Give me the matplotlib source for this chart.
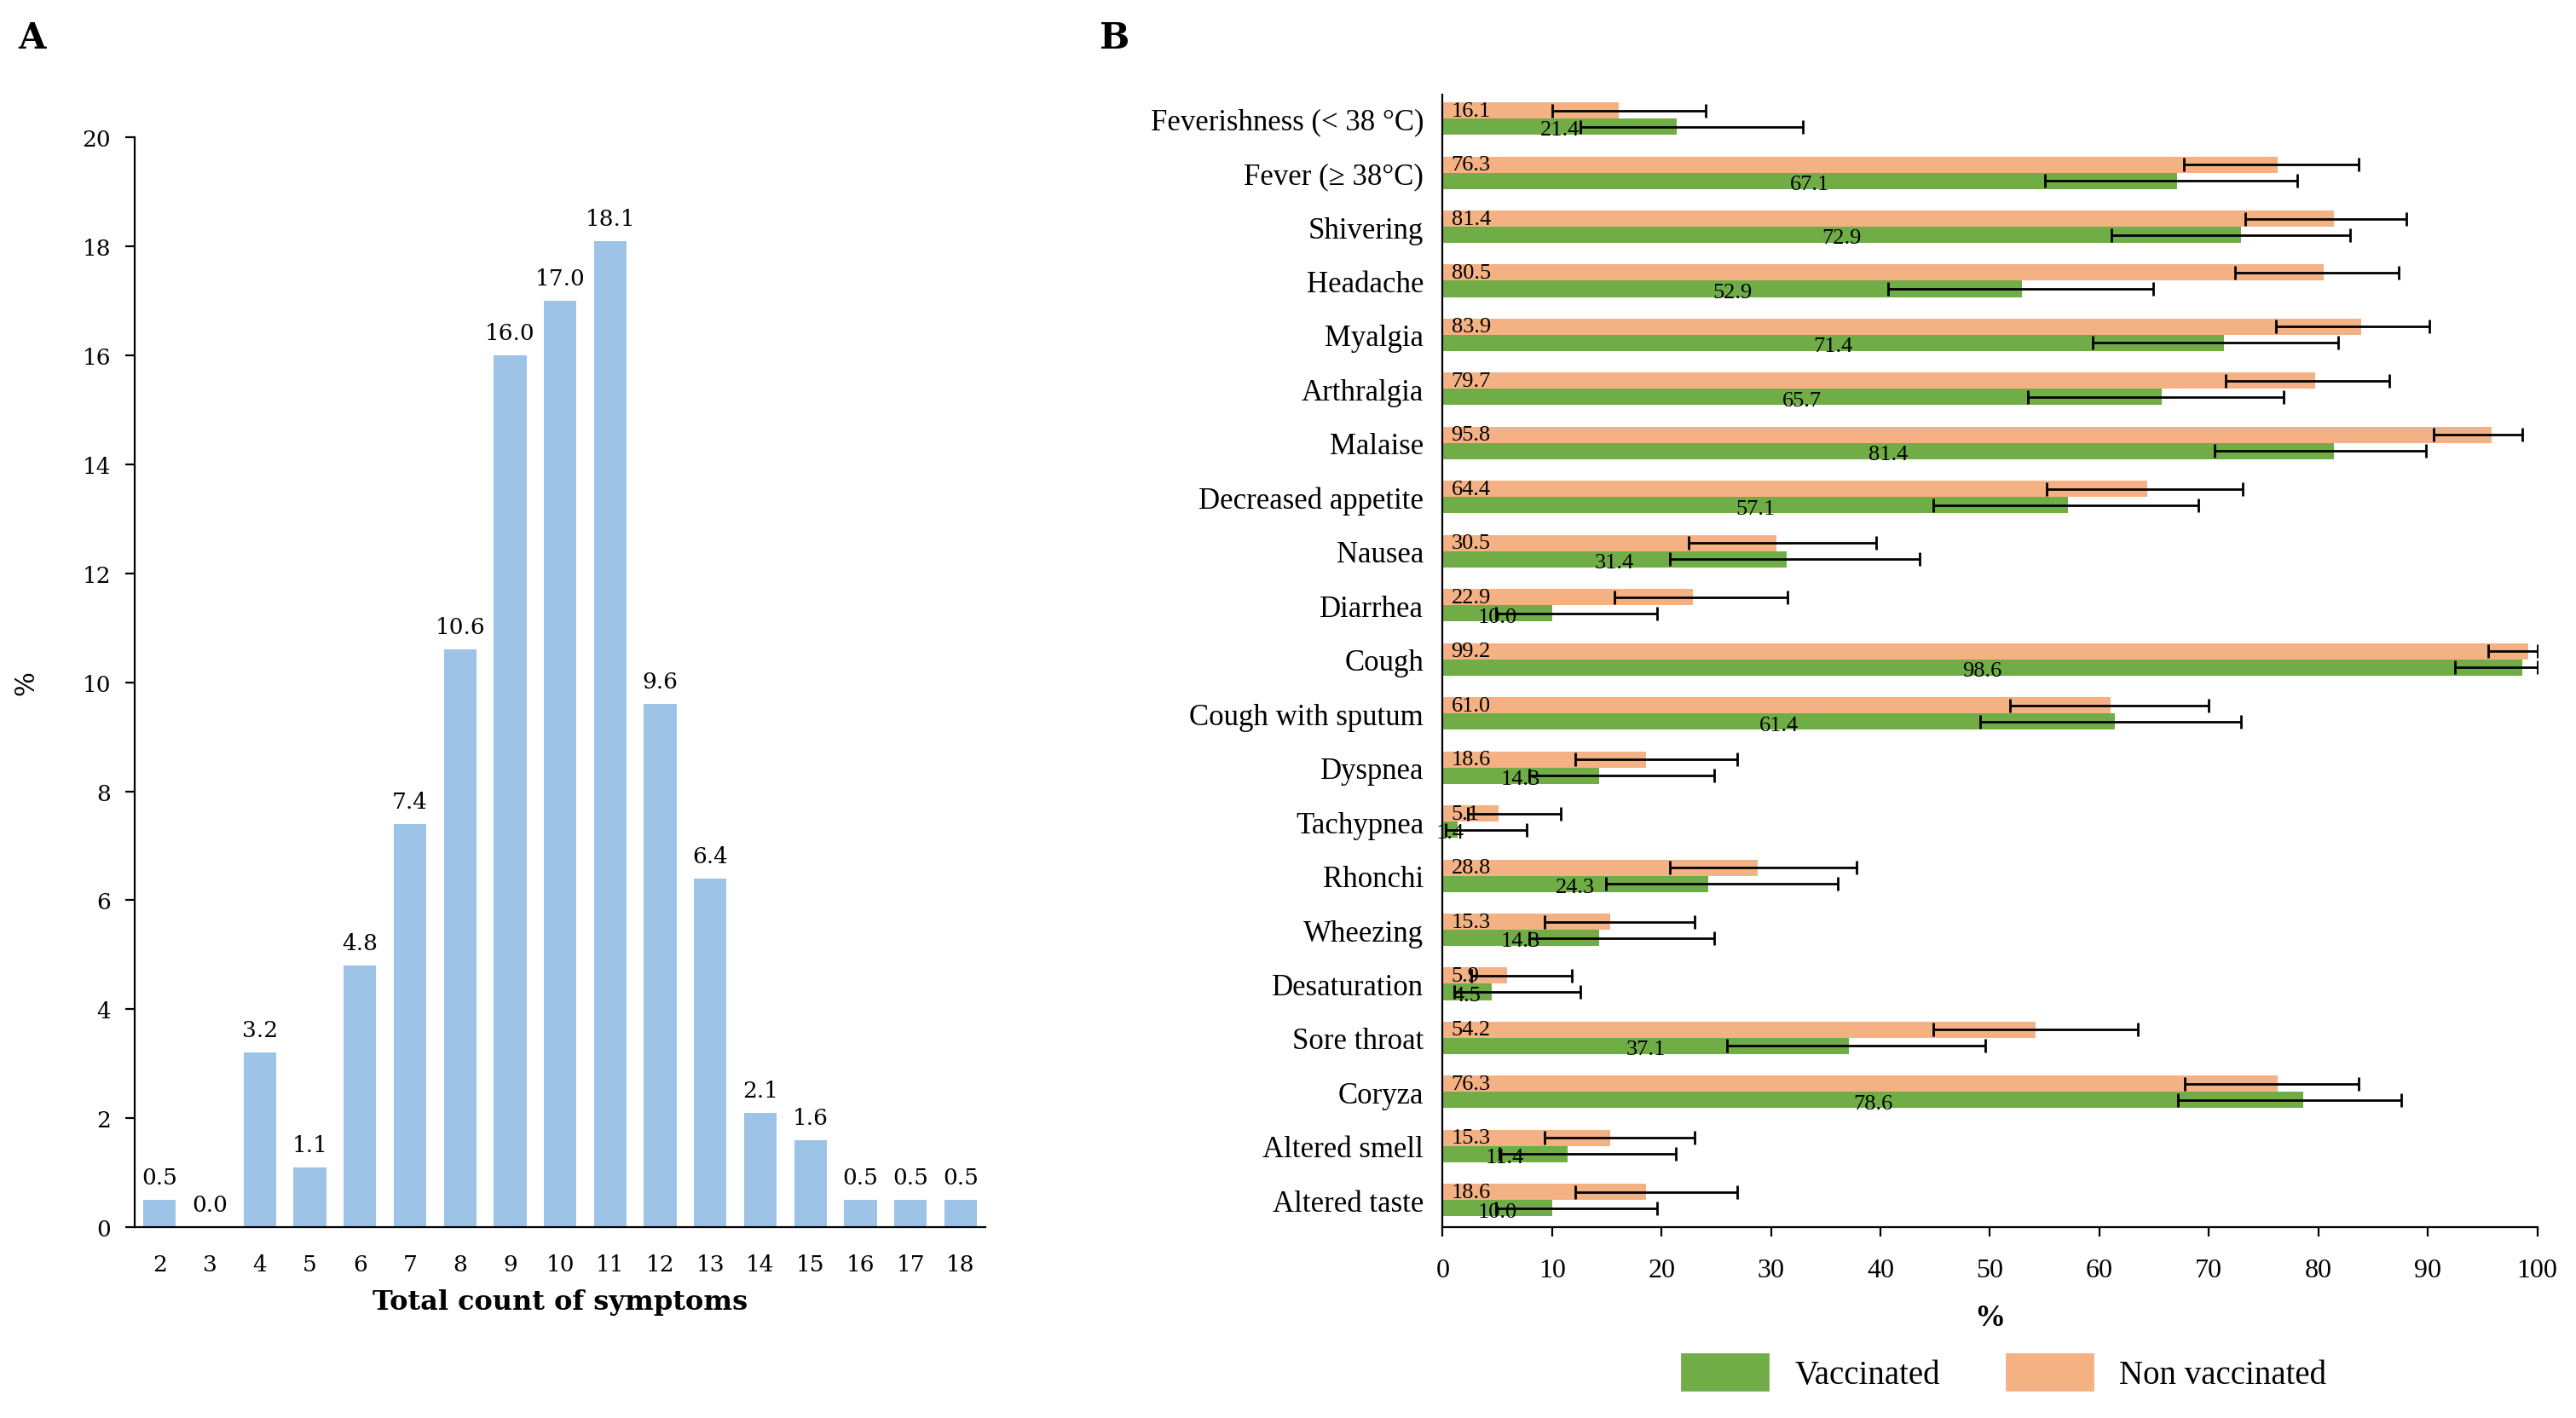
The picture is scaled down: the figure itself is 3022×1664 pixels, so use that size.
import matplotlib.pyplot as plt
import matplotlib.patches as mpatches
import numpy as np

# panel A: distribution of symptom counts
counts = list(range(2, 19))
pct_counts = [0.5, 0.0, 3.2, 1.1, 4.8, 7.4, 10.6, 16.0, 17.0, 18.1,
              9.6, 6.4, 2.1, 1.6, 0.5, 0.5, 0.5]

# panel B: symptoms by vaccination status
symptoms = ["Feverishness (< 38 °C)", "Fever (≥ 38°C)", "Shivering", "Headache",
            "Myalgia", "Arthralgia", "Malaise", "Decreased appetite", "Nausea",
            "Diarrhea", "Cough", "Cough with sputum", "Dyspnea", "Tachypnea",
            "Rhonchi", "Wheezing", "Desaturation", "Sore throat", "Coryza",
            "Altered smell", "Altered taste"]
nonvacc = [16.1, 76.3, 81.4, 80.5, 83.9, 79.7, 95.8, 64.4, 30.5, 22.9, 99.2,
           61.0, 18.6, 5.1, 28.8, 15.3, 5.9, 54.2, 76.3, 15.3, 18.6]
nonvacc_lo = [10.0, 67.7, 73.3, 72.4, 76.1, 71.5, 90.5, 55.2, 22.5, 15.7, 95.5,
              51.8, 12.1, 2.3, 20.8, 9.3, 2.6, 44.8, 67.8, 9.3, 12.1]
nonvacc_hi = [24.0, 83.7, 88.0, 87.3, 90.1, 86.5, 98.6, 73.1, 39.6, 31.5, 100.0,
              70.0, 26.9, 10.8, 37.8, 23.0, 11.8, 63.5, 83.7, 23.0, 26.9]
vacc = [21.4, 67.1, 72.9, 52.9, 71.4, 65.7, 81.4, 57.1, 31.4, 10.0, 98.6,
        61.4, 14.3, 1.4, 24.3, 14.3, 4.5, 37.1, 78.6, 11.4, 10.0]
vacc_lo = [12.6, 55.0, 61.1, 40.7, 59.4, 53.5, 70.5, 44.8, 20.8, 4.9, 92.5,
           49.1, 7.9, 0.3, 14.9, 7.9, 1.1, 26.0, 67.2, 5.2, 4.9]
vacc_hi = [32.9, 78.1, 82.9, 64.9, 81.8, 76.8, 89.8, 69.0, 43.6, 19.6, 100.0,
           72.9, 24.8, 7.7, 36.1, 24.8, 12.6, 49.6, 87.6, 21.3, 19.6]

blue = "#9DC3E6"
green = "#70AD47"
orange = "#F4B183"

fig = plt.figure(figsize=(15.11, 8.325), dpi=200)

# ---- panel A
axA = fig.add_axes([0.0523, 0.1345, 0.3303, 0.768])
axA.bar(counts, pct_counts, width=0.65, color=blue)
for x, v in zip(counts, pct_counts):
    axA.text(x, v + 0.22, f"{v:.1f}", ha="center", va="bottom",
             family="DejaVu Serif", fontsize=9.5)
axA.set_xlim(1.5, 18.5)
axA.set_ylim(0, 20)
axA.set_yticks(np.arange(0, 21, 2))
axA.set_xticks(counts)
axA.tick_params(axis="x", length=0, pad=11)
axA.tick_params(axis="y", length=4, direction="out", pad=6)
for lab in axA.get_xticklabels() + axA.get_yticklabels():
    lab.set_family("DejaVu Serif")
    lab.set_fontsize(9.5)
axA.spines["top"].set_visible(False)
axA.spines["right"].set_visible(False)
axA.set_xlabel("Total count of symptoms", family="DejaVu Serif",
               fontweight="bold", fontsize=11.5, labelpad=6)
axA.set_ylabel("%", family="DejaVu Serif", fontsize=11, labelpad=18)

# ---- panel B
axB = fig.add_axes([0.560, 0.1345, 0.425, 0.7985])
y = np.arange(len(symptoms))
h = 0.3
nv_err = [np.array(nonvacc) - np.array(nonvacc_lo), np.array(nonvacc_hi) - np.array(nonvacc)]
v_err = [np.array(vacc) - np.array(vacc_lo), np.array(vacc_hi) - np.array(vacc)]
axB.barh(y - h / 2, nonvacc, height=h, color=orange, label="Non vaccinated")
axB.barh(y + h / 2, vacc, height=h, color=green, label="Vaccinated")
axB.errorbar(nonvacc, y - h / 2, xerr=nv_err, fmt="none", ecolor="black",
             elinewidth=1.0, capsize=3, capthick=1.0)
axB.errorbar(vacc, y + h / 2, xerr=v_err, fmt="none", ecolor="black",
             elinewidth=1.0, capsize=3, capthick=1.0)
for yi, v in zip(y, nonvacc):
    axB.text(0.8, yi - h / 2, f"{v:.1f}", ha="left", va="center",
             family="Liberation Serif", fontsize=9.5)
for yi, v in zip(y, vacc):
    axB.text(v / 2, yi + h / 2 + 0.06, f"{v:.1f}", ha="center", va="center",
             family="Liberation Serif", fontsize=9.5)
axB.set_yticks(y)
axB.set_yticklabels(symptoms, family="Liberation Serif", fontsize=12.5)
axB.tick_params(axis="y", length=0, pad=8)
axB.set_xlim(0, 100)
axB.set_ylim(len(symptoms) - 0.5, -0.45)
axB.set_xticks(np.arange(0, 101, 10))
axB.tick_params(axis="x", length=4, direction="out", pad=9)
for lab in axB.get_xticklabels():
    lab.set_family("Liberation Serif")
    lab.set_fontsize(11.5)
axB.spines["top"].set_visible(False)
axB.spines["right"].set_visible(False)
axB.set_xlabel("%", family="Liberation Serif", fontweight="bold", fontsize=13,
               labelpad=9)

handles = [mpatches.Patch(color=green, label="Vaccinated"),
           mpatches.Patch(color=orange, label="Non vaccinated")]
fig.legend(handles=handles, loc="center", bbox_to_anchor=(0.778, 0.032), ncol=2,
           frameon=False, prop={"family": "Liberation Serif", "size": 14},
           handlelength=2.6, handleheight=1.3, columnspacing=2.0)

fig.text(0.007, 0.973, "A", family="DejaVu Serif", fontweight="bold", fontsize=15,
         va="center")
fig.text(0.427, 0.973, "B", family="DejaVu Serif", fontweight="bold", fontsize=15,
         va="center")

fig.savefig("out.png", dpi=200)
